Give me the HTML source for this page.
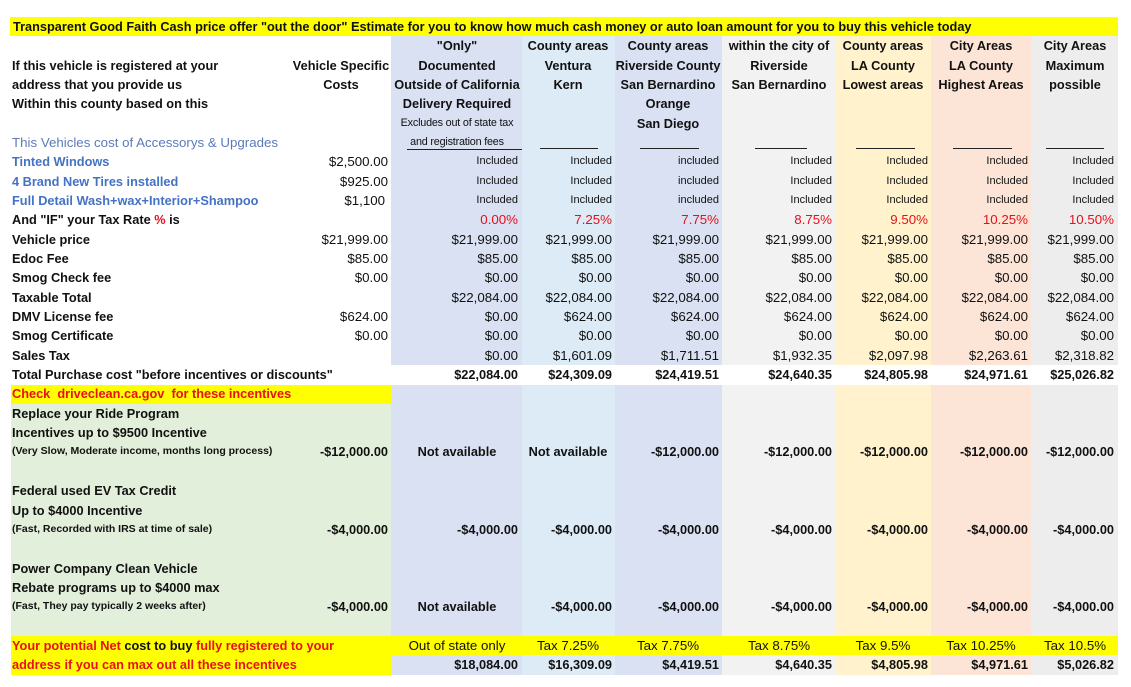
<!DOCTYPE html>
<html><head><meta charset="utf-8">
<style>
html,body{margin:0;padding:0;background:#fff;}
body{width:1131px;height:687px;position:relative;overflow:hidden;font-family:"Liberation Sans",Arial,sans-serif;color:#111;}
.bg{position:absolute;}
.t{position:absolute;height:19.34px;line-height:19.34px;white-space:nowrap;font-size:13.3px;}
.b{font-weight:bold;font-size:12.75px;}
.r{width:220px;text-align:right;}
.c{width:200px;text-align:center;}
.s{font-size:11px;}
.red{color:#e8101a;}
.blu{color:#4472c4;}
.sm{font-size:10.5px;}
.ln{position:absolute;height:1px;background:#222;}
</style></head><body>

<!-- column backgrounds -->
<div class="bg" style="left:391px;top:36px;width:131px;height:639px;background:#d9e1f2"></div>
<div class="bg" style="left:522px;top:36px;width:93px;height:639px;background:#ddebf7"></div>
<div class="bg" style="left:615px;top:36px;width:107px;height:639px;background:#d9e1f2"></div>
<div class="bg" style="left:722px;top:36px;width:113px;height:639px;background:#f2f2f2"></div>
<div class="bg" style="left:835px;top:36px;width:96px;height:639px;background:#fff2cc"></div>
<div class="bg" style="left:931px;top:36px;width:100px;height:639px;background:#fce4d6"></div>
<div class="bg" style="left:1031px;top:36px;width:87px;height:639px;background:#ededed"></div>
<!-- white total row -->
<div class="bg" style="left:391px;top:365px;width:727px;height:19.5px;background:#fff"></div>
<!-- title bar -->
<div class="bg" style="left:10px;top:17px;width:1108px;height:19.3px;background:#ffff00"></div>
<!-- check row yellow -->
<div class="bg" style="left:11px;top:384.5px;width:380px;height:19.4px;background:#ffff00"></div>
<!-- green incentives -->
<div class="bg" style="left:11px;top:403.8px;width:380px;height:232.1px;background:#e2efda"></div>
<!-- bottom yellow -->
<div class="bg" style="left:11px;top:635.9px;width:1107px;height:19.4px;background:#ffff00"></div>
<div class="bg" style="left:11px;top:655.2px;width:380px;height:19.4px;background:#ffff00"></div>

<!-- title -->
<div class="t b" style="left:13px;top:17px;">Transparent Good Faith Cash price offer "out the door" Estimate for you to know how much cash money or auto loan amount for you to buy this vehicle today</div>

<!-- header row 1 -->
<div class="t b c" style="left:357px;top:36.34px;">"Only"</div>
<div class="t b c" style="left:468px;top:36.34px;">County areas</div>
<div class="t b c" style="left:568px;top:36.34px;">County areas</div>
<div class="t b c" style="left:679px;top:36.34px;">within the city of</div>
<div class="t b c" style="left:783px;top:36.34px;">County areas</div>
<div class="t b c" style="left:881px;top:36.34px;">City Areas</div>
<div class="t b c" style="left:975px;top:36.34px;">City Areas</div>
<!-- row 2 -->
<div class="t b" style="left:12px;top:55.68px;">If this vehicle is registered at your</div>
<div class="t b c" style="left:241px;top:55.68px;">Vehicle Specific</div>
<div class="t b c" style="left:357px;top:55.68px;">Documented</div>
<div class="t b c" style="left:468px;top:55.68px;">Ventura</div>
<div class="t b c" style="left:568px;top:55.68px;">Riverside County</div>
<div class="t b c" style="left:679px;top:55.68px;">Riverside</div>
<div class="t b c" style="left:783px;top:55.68px;">LA County</div>
<div class="t b c" style="left:881px;top:55.68px;">LA County</div>
<div class="t b c" style="left:975px;top:55.68px;">Maximum</div>
<!-- row 3 -->
<div class="t b" style="left:12px;top:75.02px;">address that you provide us</div>
<div class="t b c" style="left:241px;top:75.02px;">Costs</div>
<div class="t b c" style="left:357px;top:75.02px;">Outside of California</div>
<div class="t b c" style="left:468px;top:75.02px;">Kern</div>
<div class="t b c" style="left:568px;top:75.02px;">San Bernardino</div>
<div class="t b c" style="left:679px;top:75.02px;">San Bernardino</div>
<div class="t b c" style="left:783px;top:75.02px;">Lowest areas</div>
<div class="t b c" style="left:881px;top:75.02px;">Highest Areas</div>
<div class="t b c" style="left:975px;top:75.02px;">possible</div>
<!-- row 4 -->
<div class="t b" style="left:12px;top:94.36px;">Within this county based on this</div>
<div class="t b c" style="left:357px;top:94.36px;">Delivery Required</div>
<div class="t b c" style="left:568px;top:94.36px;">Orange</div>
<!-- row 5 -->
<div class="t c" style="left:357px;top:113.7px;font-size:10.8px;letter-spacing:-0.2px;">Excludes out of state tax</div>
<div class="t b c" style="left:568px;top:113.7px;">San Diego</div>
<!-- row 6 -->
<div class="t" style="left:12px;top:133.04px;color:#5b7bb8;">This Vehicles cost of Accessorys &amp; Upgrades</div>
<div class="t c" style="left:357px;top:133.04px;font-size:10.8px;letter-spacing:-0.2px;">and registration fees</div>
<div class="ln" style="left:407px;top:149px;width:115px;"></div>
<div class="ln" style="left:540px;top:148px;width:58px;"></div>
<div class="ln" style="left:640px;top:148px;width:59px;"></div>
<div class="ln" style="left:755px;top:148px;width:52px;"></div>
<div class="ln" style="left:856px;top:148px;width:59px;"></div>
<div class="ln" style="left:953px;top:148px;width:59px;"></div>
<div class="ln" style="left:1046px;top:148px;width:58px;"></div>

<!-- rows 7-9 -->
<div class="t b blu" style="left:12px;top:152.38px;">Tinted Windows</div>
<div class="t b blu" style="left:12px;top:171.72px;">4 Brand New Tires installed</div>
<div class="t b blu" style="left:12px;top:191.06px;">Full Detail Wash+wax+Interior+Shampoo</div>
<div class="t r" style="left:168px;top:152.38px;">$2,500.00</div>
<div class="t r" style="left:168px;top:171.72px;">$925.00</div>
<div class="t r" style="left:165px;top:191.06px;">$1,100</div>

<div class="t r s" style="left:298px;top:152.38px;">Included</div>
<div class="t r s" style="left:392px;top:152.38px;">Included</div>
<div class="t r s" style="left:499px;top:152.38px;">included</div>
<div class="t r s" style="left:612px;top:152.38px;">Included</div>
<div class="t r s" style="left:708px;top:152.38px;">Included</div>
<div class="t r s" style="left:808px;top:152.38px;">Included</div>
<div class="t r s" style="left:894px;top:152.38px;">Included</div>

<div class="t r s" style="left:298px;top:171.72px;">Included</div>
<div class="t r s" style="left:392px;top:171.72px;">Included</div>
<div class="t r s" style="left:499px;top:171.72px;">included</div>
<div class="t r s" style="left:612px;top:171.72px;">Included</div>
<div class="t r s" style="left:708px;top:171.72px;">Included</div>
<div class="t r s" style="left:808px;top:171.72px;">Included</div>
<div class="t r s" style="left:894px;top:171.72px;">Included</div>

<div class="t r s" style="left:298px;top:191.06px;">Included</div>
<div class="t r s" style="left:392px;top:191.06px;">Included</div>
<div class="t r s" style="left:499px;top:191.06px;">included</div>
<div class="t r s" style="left:612px;top:191.06px;">Included</div>
<div class="t r s" style="left:708px;top:191.06px;">Included</div>
<div class="t r s" style="left:808px;top:191.06px;">Included</div>
<div class="t r s" style="left:894px;top:191.06px;">Included</div>

<!-- row 10 -->
<div class="t b" style="left:12px;top:210.4px;">And "IF" your Tax Rate <span class="red">%</span> is</div>
<div class="t r red" style="left:298px;top:210.4px;">0.00%</div>
<div class="t r red" style="left:392px;top:210.4px;">7.25%</div>
<div class="t r red" style="left:499px;top:210.4px;">7.75%</div>
<div class="t r red" style="left:612px;top:210.4px;">8.75%</div>
<div class="t r red" style="left:708px;top:210.4px;">9.50%</div>
<div class="t r red" style="left:808px;top:210.4px;">10.25%</div>
<div class="t r red" style="left:894px;top:210.4px;">10.50%</div>

<!-- row 11 Vehicle price -->
<div class="t b" style="left:12px;top:229.74px;">Vehicle price</div>
<div class="t r" style="left:168px;top:229.74px;">$21,999.00</div>
<div class="t r" style="left:298px;top:229.74px;">$21,999.00</div>
<div class="t r" style="left:392px;top:229.74px;">$21,999.00</div>
<div class="t r" style="left:499px;top:229.74px;">$21,999.00</div>
<div class="t r" style="left:612px;top:229.74px;">$21,999.00</div>
<div class="t r" style="left:708px;top:229.74px;">$21,999.00</div>
<div class="t r" style="left:808px;top:229.74px;">$21,999.00</div>
<div class="t r" style="left:894px;top:229.74px;">$21,999.00</div>

<!-- row 12 Edoc -->
<div class="t b" style="left:12px;top:249.08px;">Edoc Fee</div>
<div class="t r" style="left:168px;top:249.08px;">$85.00</div>
<div class="t r" style="left:298px;top:249.08px;">$85.00</div>
<div class="t r" style="left:392px;top:249.08px;">$85.00</div>
<div class="t r" style="left:499px;top:249.08px;">$85.00</div>
<div class="t r" style="left:612px;top:249.08px;">$85.00</div>
<div class="t r" style="left:708px;top:249.08px;">$85.00</div>
<div class="t r" style="left:808px;top:249.08px;">$85.00</div>
<div class="t r" style="left:894px;top:249.08px;">$85.00</div>

<!-- row 13 Smog check -->
<div class="t b" style="left:12px;top:268.42px;">Smog Check fee</div>
<div class="t r" style="left:168px;top:268.42px;">$0.00</div>
<div class="t r" style="left:298px;top:268.42px;">$0.00</div>
<div class="t r" style="left:392px;top:268.42px;">$0.00</div>
<div class="t r" style="left:499px;top:268.42px;">$0.00</div>
<div class="t r" style="left:612px;top:268.42px;">$0.00</div>
<div class="t r" style="left:708px;top:268.42px;">$0.00</div>
<div class="t r" style="left:808px;top:268.42px;">$0.00</div>
<div class="t r" style="left:894px;top:268.42px;">$0.00</div>

<!-- row 14 Taxable -->
<div class="t b" style="left:12px;top:287.76px;">Taxable Total</div>
<div class="t r" style="left:298px;top:287.76px;">$22,084.00</div>
<div class="t r" style="left:392px;top:287.76px;">$22,084.00</div>
<div class="t r" style="left:499px;top:287.76px;">$22,084.00</div>
<div class="t r" style="left:612px;top:287.76px;">$22,084.00</div>
<div class="t r" style="left:708px;top:287.76px;">$22,084.00</div>
<div class="t r" style="left:808px;top:287.76px;">$22,084.00</div>
<div class="t r" style="left:894px;top:287.76px;">$22,084.00</div>

<!-- row 15 DMV -->
<div class="t b" style="left:12px;top:307.1px;">DMV License fee</div>
<div class="t r" style="left:168px;top:307.1px;">$624.00</div>
<div class="t r" style="left:298px;top:307.1px;">$0.00</div>
<div class="t r" style="left:392px;top:307.1px;">$624.00</div>
<div class="t r" style="left:499px;top:307.1px;">$624.00</div>
<div class="t r" style="left:612px;top:307.1px;">$624.00</div>
<div class="t r" style="left:708px;top:307.1px;">$624.00</div>
<div class="t r" style="left:808px;top:307.1px;">$624.00</div>
<div class="t r" style="left:894px;top:307.1px;">$624.00</div>

<!-- row 16 Smog cert -->
<div class="t b" style="left:12px;top:326.44px;">Smog Certificate</div>
<div class="t r" style="left:168px;top:326.44px;">$0.00</div>
<div class="t r" style="left:298px;top:326.44px;">$0.00</div>
<div class="t r" style="left:392px;top:326.44px;">$0.00</div>
<div class="t r" style="left:499px;top:326.44px;">$0.00</div>
<div class="t r" style="left:612px;top:326.44px;">$0.00</div>
<div class="t r" style="left:708px;top:326.44px;">$0.00</div>
<div class="t r" style="left:808px;top:326.44px;">$0.00</div>
<div class="t r" style="left:894px;top:326.44px;">$0.00</div>

<!-- row 17 Sales tax -->
<div class="t b" style="left:12px;top:345.78px;">Sales Tax</div>
<div class="t r" style="left:298px;top:345.78px;">$0.00</div>
<div class="t r" style="left:392px;top:345.78px;">$1,601.09</div>
<div class="t r" style="left:499px;top:345.78px;">$1,711.51</div>
<div class="t r" style="left:612px;top:345.78px;">$1,932.35</div>
<div class="t r" style="left:708px;top:345.78px;">$2,097.98</div>
<div class="t r" style="left:808px;top:345.78px;">$2,263.61</div>
<div class="t r" style="left:894px;top:345.78px;">$2,318.82</div>

<!-- row 18 Total -->
<div class="t b" style="left:12px;top:365.12px;">Total Purchase cost "before incentives or discounts"</div>
<div class="t r b" style="left:298px;top:365.12px;">$22,084.00</div>
<div class="t r b" style="left:392px;top:365.12px;">$24,309.09</div>
<div class="t r b" style="left:499px;top:365.12px;">$24,419.51</div>
<div class="t r b" style="left:612px;top:365.12px;">$24,640.35</div>
<div class="t r b" style="left:708px;top:365.12px;">$24,805.98</div>
<div class="t r b" style="left:808px;top:365.12px;">$24,971.61</div>
<div class="t r b" style="left:894px;top:365.12px;">$25,026.82</div>

<!-- row 19 -->
<div class="t b red" style="left:12px;top:384.46px;">Check&nbsp; driveclean.ca.gov&nbsp; for these incentives</div>

<!-- rows 20-22 -->
<div class="t b" style="left:12px;top:403.8px;">Replace your Ride Program</div>
<div class="t b" style="left:12px;top:423.14px;">Incentives up to $9500 Incentive</div>
<div class="t b sm" style="left:12px;top:442.48px;">(Very Slow, Moderate income, months long process)</div>
<div class="t r b" style="left:168px;top:442.48px;">-$12,000.00</div>
<div class="t c b" style="left:357px;top:442.48px;">Not available</div>
<div class="t c b" style="left:468px;top:442.48px;">Not available</div>
<div class="t r b" style="left:499px;top:442.48px;">-$12,000.00</div>
<div class="t r b" style="left:612px;top:442.48px;">-$12,000.00</div>
<div class="t r b" style="left:708px;top:442.48px;">-$12,000.00</div>
<div class="t r b" style="left:808px;top:442.48px;">-$12,000.00</div>
<div class="t r b" style="left:894px;top:442.48px;">-$12,000.00</div>

<!-- rows 24-26 -->
<div class="t b" style="left:12px;top:481.16px;">Federal used EV Tax Credit</div>
<div class="t b" style="left:12px;top:500.5px;">Up to $4000 Incentive</div>
<div class="t b sm" style="left:12px;top:519.84px;">(Fast, Recorded with IRS at time of sale)</div>
<div class="t r b" style="left:168px;top:519.84px;">-$4,000.00</div>
<div class="t r b" style="left:298px;top:519.84px;">-$4,000.00</div>
<div class="t r b" style="left:392px;top:519.84px;">-$4,000.00</div>
<div class="t r b" style="left:499px;top:519.84px;">-$4,000.00</div>
<div class="t r b" style="left:612px;top:519.84px;">-$4,000.00</div>
<div class="t r b" style="left:708px;top:519.84px;">-$4,000.00</div>
<div class="t r b" style="left:808px;top:519.84px;">-$4,000.00</div>
<div class="t r b" style="left:894px;top:519.84px;">-$4,000.00</div>

<!-- rows 28-30 -->
<div class="t b" style="left:12px;top:558.52px;">Power Company Clean Vehicle</div>
<div class="t b" style="left:12px;top:577.86px;">Rebate programs up to $4000 max</div>
<div class="t b sm" style="left:12px;top:597.2px;">(Fast, They pay typically 2 weeks after)</div>
<div class="t r b" style="left:168px;top:597.2px;">-$4,000.00</div>
<div class="t c b" style="left:357px;top:597.2px;">Not available</div>
<div class="t r b" style="left:392px;top:597.2px;">-$4,000.00</div>
<div class="t r b" style="left:499px;top:597.2px;">-$4,000.00</div>
<div class="t r b" style="left:612px;top:597.2px;">-$4,000.00</div>
<div class="t r b" style="left:708px;top:597.2px;">-$4,000.00</div>
<div class="t r b" style="left:808px;top:597.2px;">-$4,000.00</div>
<div class="t r b" style="left:894px;top:597.2px;">-$4,000.00</div>

<!-- row 32 -->
<div class="t b" style="left:12px;top:635.88px;"><span class="red">Your potential Net</span> cost to buy <span class="red">fully registered to your</span></div>
<div class="t c" style="left:357px;top:635.88px;">Out of state only</div>
<div class="t c" style="left:468px;top:635.88px;">Tax 7.25%</div>
<div class="t c" style="left:568px;top:635.88px;">Tax 7.75%</div>
<div class="t c" style="left:679px;top:635.88px;">Tax 8.75%</div>
<div class="t c" style="left:783px;top:635.88px;">Tax 9.5%</div>
<div class="t c" style="left:881px;top:635.88px;">Tax 10.25%</div>
<div class="t c" style="left:975px;top:635.88px;">Tax 10.5%</div>

<!-- row 33 -->
<div class="t b red" style="left:12px;top:655.22px;">address if you can max out all these incentives</div>
<div class="t r b" style="left:298px;top:655.22px;">$18,084.00</div>
<div class="t r b" style="left:392px;top:655.22px;">$16,309.09</div>
<div class="t r b" style="left:499px;top:655.22px;">$4,419.51</div>
<div class="t r b" style="left:612px;top:655.22px;">$4,640.35</div>
<div class="t r b" style="left:708px;top:655.22px;">$4,805.98</div>
<div class="t r b" style="left:808px;top:655.22px;">$4,971.61</div>
<div class="t r b" style="left:894px;top:655.22px;">$5,026.82</div>

</body></html>
